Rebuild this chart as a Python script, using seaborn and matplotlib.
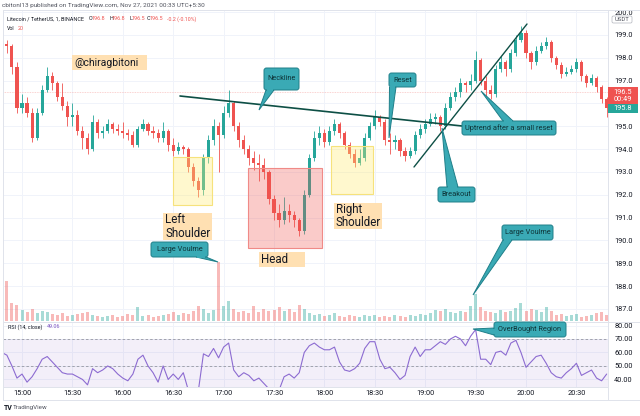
import matplotlib
matplotlib.use("Agg")
import matplotlib.pyplot as plt
import matplotlib.dates as mdates
from matplotlib.patches import Rectangle, Polygon, FancyBboxPatch
from matplotlib.lines import Line2D
from matplotlib.transforms import Affine2D
import numpy as np
import pandas as pd
import seaborn as sns

FIRST_OPEN = 198.3
CLOSE = [198.6, 198.5, 197.6, 195.8, 196.0, 195.6, 194.5, 195.6, 196.6, 197.2,
         196.9, 196.3, 195.9, 195.4, 195.5, 194.8, 194.5, 194.0, 195.2, 194.7,
         194.8, 195.1, 194.9, 194.8, 194.7, 194.6, 194.2, 194.9, 195.1, 194.8,
         194.7, 194.5, 194.8, 194.2, 193.9, 194.1, 194.0, 193.2, 192.6, 192.2,
         193.6, 194.4, 195.0, 194.6, 195.6, 196.0, 195.0, 194.4, 194.0, 193.6,
         193.4, 193.3, 193.0, 191.8, 191.2, 190.9, 191.3, 191.1, 190.9, 190.4,
         192.0, 193.6, 194.5, 194.7, 194.3, 194.8, 195.1, 194.7, 194.2, 193.8,
         193.4, 193.6, 194.5, 195.0, 195.4, 195.2, 194.4, 194.3, 194.4, 193.9,
         193.7, 193.9, 194.6, 194.9, 195.1, 195.3, 195.4, 195.0, 195.8, 196.3,
         196.5, 196.9, 196.8, 197.0, 197.9, 197.0, 196.6, 196.4, 197.5, 197.8,
         197.5, 198.2, 198.8, 199.1, 198.2, 197.8, 198.3, 198.5, 198.7, 198.0,
         197.7, 197.3, 197.4, 197.5, 197.8, 197.2, 196.9, 197.1, 196.7, 196.2,
         195.8]
HIGH = [198.8, 198.8, 198.6, 197.8, 196.4, 196.3, 195.8, 195.8, 196.8, 197.6,
        197.4, 197.0, 196.9, 196.1, 196.0, 195.7, 195.0, 194.7, 195.5, 195.3,
        195.0, 195.3, 195.2, 195.1, 195.2, 194.9, 194.8, 195.0, 195.3, 195.2,
        195.0, 194.9, 195.2, 194.9, 194.5, 194.3, 194.2, 194.1, 193.4, 192.8,
        193.8, 194.6, 195.3, 195.2, 195.9, 196.6, 196.1, 195.2, 194.6, 194.2,
        193.9, 193.8, 193.6, 193.1, 192.0, 191.6, 191.9, 191.6, 191.3, 191.0,
        192.2, 193.8, 194.8, 195.0, 194.9, 195.0, 195.3, 195.2, 194.8, 194.3,
        194.0, 194.0, 194.7, 195.2, 195.7, 195.5, 195.3, 194.7, 194.6, 194.5,
        194.1, 194.1, 194.8, 195.1, 195.3, 195.6, 195.6, 195.5, 196.0, 196.5,
        196.7, 197.1, 197.0, 197.3, 198.3, 198.0, 197.2, 196.8, 197.7, 198.1,
        197.9, 198.4, 199.0, 199.4, 199.2, 198.3, 198.5, 198.7, 198.9, 198.8,
        198.1, 197.8, 197.6, 197.7, 198.0, 197.9, 197.3, 197.3, 197.2, 196.8,
        196.3]
LOW = [198.1, 198.2, 197.3, 195.6, 195.6, 195.4, 194.3, 194.4, 195.5, 196.5,
       196.6, 196.1, 195.7, 195.0, 195.0, 194.6, 194.0, 193.8, 193.9, 194.5,
       194.5, 194.7, 194.7, 194.6, 194.5, 194.4, 194.1, 194.1, 194.8, 194.6,
       194.5, 194.3, 194.3, 193.9, 193.7, 193.8, 193.8, 193.0, 192.4, 191.9,
       192.0, 193.4, 194.2, 193.0, 194.5, 195.4, 194.8, 194.1, 193.8, 193.3,
       193.1, 192.6, 192.7, 191.6, 190.9, 190.6, 190.7, 190.8, 190.6, 190.2,
       190.3, 191.9, 193.5, 194.2, 194.1, 194.2, 194.6, 194.5, 194.0, 193.6,
       193.2, 193.3, 193.5, 194.4, 194.9, 195.0, 194.2, 193.8, 194.0, 193.7,
       193.5, 193.6, 193.8, 194.5, 194.7, 195.0, 195.1, 194.8, 194.9, 195.7,
       196.1, 196.3, 196.5, 196.6, 196.9, 196.8, 196.3, 196.2, 196.3, 197.4,
       197.2, 197.4, 198.1, 198.7, 198.0, 197.5, 197.7, 198.2, 198.4, 197.8,
       197.5, 197.1, 197.2, 197.3, 197.4, 197.0, 196.7, 196.8, 196.5, 196.0,
       195.4]
VOLUME = [150, 400, 180, 160, 110, 90, 120, 80, 100, 90,
          70, 60, 80, 50, 60, 70, 80, 90, 60, 50,
          40, 50, 60, 40, 50, 70, 60, 140, 50, 60,
          40, 50, 60, 70, 90, 60, 80, 70, 100, 150,
          120, 80, 110, 590, 150, 200, 120, 90, 100, 80,
          150, 90, 120, 100, 110, 140, 100, 120, 90, 160,
          120, 80, 60, 70, 50, 60, 80, 50, 40, 60,
          50, 40, 60, 50, 60, 40, 50, 40, 60, 50,
          40, 60, 50, 70, 60, 80, 110, 100, 120, 90,
          80, 100, 90, 150, 270, 140, 100, 90, 80, 110,
          90, 100, 130, 180, 100, 120, 110, 90, 140, 100,
          60, 70, 50, 60, 70, 40, 50, 60, 80, 90, 60]
RSI = [60, 58, 50, 41, 44, 38, 42, 48, 55, 57,
       53, 49, 45, 44, 44, 42, 40, 36, 48, 45,
       47, 50, 48, 44, 41, 39, 44, 55, 58, 50,
       45, 38, 50, 40, 44, 40, 45, 32, 30, 32,
       59, 57, 63, 56, 64, 67, 47, 42, 45, 43,
       39, 41, 37, 33, 31, 32, 42, 44, 41, 45,
       60, 65, 67, 64, 62, 62, 64, 53, 47, 46,
       48, 52, 63, 68, 68, 55, 48, 49, 45, 40,
       43, 57, 64, 57, 62, 62, 65, 68, 66, 70,
       72, 70, 65, 72, 77, 55, 55, 51, 60, 61,
       58, 67, 69, 60, 49, 53, 57, 58, 52, 45,
       42, 41, 45, 48, 52, 43, 45, 47, 41, 39, 44]

TIME_LABELS = ["15:00", "15:30", "16:00", "16:30", "17:00", "17:30",
               "18:00", "18:30", "19:00", "19:30", "20:00", "20:30"]
PRICE_TICKS = [187.0, 188.0, 189.0, 190.0, 191.0, 192.0, 193.0,
               194.0, 195.0, 196.0, 197.0, 198.0, 199.0, 200.0]
PRICE_LABELS = ["187.0", "188.0", "189.0", "190.0", "191.0", "192.0", "193.0",
                "194.0", "195.0", "", "197.0", "198.0", "199.0", "200.0"]
RSI_TICKS = [40, 50, 60, 70, 80]
LAST_PRICE = 196.5

UP = "#26a69a"
DOWN = "#ef5350"
GRID = "#f0f3fa"
BORDER = "#e0e3eb"
TXT = "#131722"
TEAL = "#3aaab5"
TEAL_EDGE = "#1f7f89"
ORANGE = "#ffe0b2"
LINE_GREEN = "#0d4f45"

sns.set_style("white")
plt.rcParams["font.family"] = ["Roboto", "DejaVu Sans"]

W, H = 640, 416
fig = plt.figure(figsize=(W / 100, H / 100), dpi=100)
fig.patch.set_facecolor("white")


def frac(x0, y0, x1, y1):
    # pixel box (top-left origin) -> figure fraction rect
    return [x0 / W, 1 - y1 / H, (x1 - x0) / W, (y1 - y0) / H]


px = Affine2D().scale(1 / W, -1 / H).translate(0, 1) + fig.transFigure

times = pd.date_range("2021-11-26 14:48", periods=len(CLOSE), freq="3min")
xs = mdates.date2num(times)
step = xs[1] - xs[0]
x_lo = mdates.date2num(pd.Timestamp("2021-11-26 14:48:41"))
x_hi = mdates.date2num(pd.Timestamp("2021-11-26 20:48:48"))
tick_x = mdates.date2num(pd.to_datetime(["2021-11-26 " + t for t in TIME_LABELS]))

close = np.array(CLOSE)
opens = np.array([FIRST_OPEN] + CLOSE[:-1])
up = close >= opens
cols = np.where(up, UP, DOWN)

# ---- price pane
ax = fig.add_axes(frac(3, 10, 608, 321))
ax.set_xlim(x_lo, x_hi)
ax.set_ylim(186.47, 200.095)
ax.set_xticks(tick_x)
ax.set_yticks(PRICE_TICKS)
ax.set_yticklabels(PRICE_LABELS)
ax.grid(True, color=GRID, lw=0.7)
ax.set_axisbelow(True)
ax.tick_params(axis="x", bottom=False, labelbottom=False)
ax.tick_params(axis="y", left=False, labelleft=False, right=True, labelright=True,
               length=0, pad=4.5, labelsize=5.3, labelcolor=TXT)
for s in ax.spines.values():
    s.set_visible(False)
ax.axhline(LAST_PRICE, color=DOWN, lw=0.6, alpha=0.35, ls=(0, (1, 1)))
ax.vlines(xs, LOW, HIGH, colors=cols, lw=0.6, zorder=3)
ax.bar(xs, np.maximum(np.abs(close - opens), 0.04), bottom=np.minimum(close, opens),
       width=step * 0.62, color=cols, lw=0, zorder=4)

# ---- volume overlay
axv = fig.add_axes(frac(3, 201, 608, 321))
axv.patch.set_alpha(0)
axv.set_xlim(x_lo, x_hi)
axv.set_ylim(0, 1200)
axv.bar(xs, VOLUME, width=step * 0.6, color=cols, alpha=0.4, lw=0)
axv.set_xticks([])
axv.set_yticks([])
for s in axv.spines.values():
    s.set_visible(False)

# ---- RSI pane
axr = fig.add_axes(frac(3, 322, 608, 387))
axr.set_xlim(x_lo, x_hi)
axr.set_ylim(34.4, 82.6)
axr.axhspan(30, 70, color="#7e57c2", alpha=0.09, lw=0)
for lvl in (70, 50, 30):
    axr.axhline(lvl, color="#9598a1", lw=0.6, ls=(0, (3, 2.5)))
sns.lineplot(x=xs, y=RSI, ax=axr, color="#8c6bd1", lw=0.8)
axr.set_xticks(tick_x)
axr.set_xticklabels(TIME_LABELS)
axr.set_yticks(RSI_TICKS)
axr.set_yticklabels([f"{v:.2f}" for v in RSI_TICKS])
axr.grid(True, color=GRID, lw=0.7)
axr.set_axisbelow(True)
axr.tick_params(axis="x", length=0, pad=2.5, labelsize=5.3, labelcolor=TXT)
axr.tick_params(axis="y", left=False, labelleft=False, right=True, labelright=True,
                length=0, pad=4.5, labelsize=5.3, labelcolor=TXT)
for s in axr.spines.values():
    s.set_visible(False)

# ---- frame lines
for (xa, ya, xb, yb) in [(3, 10, 640, 10), (3, 10, 3, 400), (3, 400, 640, 400),
                         (608, 10, 608, 400), (3, 321.5, 640, 321.5), (3, 387, 608, 387)]:
    fig.add_artist(Line2D([xa, xb], [ya, yb], color=BORDER, lw=0.7, transform=px))

# ---- header texts
fig.text(2 / W, 1 - 6 / H, "cbitonl13 published on TradingView.com, Nov 27, 2021 00:33 UTC+5:30",
         fontsize=4.6, color="#50535e", va="center")
hy = 1 - 19 / H
for xp, s, c in [(7, "Litecoin / TetherUS, 1, BINANCE", TXT), (89, "O", TXT), (92, "196.8", DOWN),
                 (109, "H", TXT), (112, "196.8", DOWN), (129, "L", TXT), (131.5, "196.5", DOWN),
                 (147, "C", TXT), (150, "196.5", DOWN), (167, "-0.2 (-0.10%)", DOWN)]:
    fig.text(xp / W, hy, s, fontsize=3.9, color=c, va="center")
fig.text(7 / W, 1 - 28 / H, "Vol", fontsize=3.9, color=TXT, va="center")
fig.text(18 / W, 1 - 28 / H, "20", fontsize=3.9, color=DOWN, va="center")
fig.text(8 / W, 1 - 327 / H, "RSI (14, close)", fontsize=3.9, color=TXT, va="center")
fig.text(47 / W, 1 - 327 / H, "49.06", fontsize=3.9, color="#7e57c2", va="center")
fig.text(4 / W, 1 - 408 / H, "TV", fontsize=5, color=TXT, va="center", fontweight="bold")
fig.text(13 / W, 1 - 408 / H, "TradingView", fontsize=4.5, color="#50535e", va="center")

# ---- right price labels
fig.add_artist(Rectangle((608, 87), 30, 17, fc=DOWN, ec="none", transform=px, zorder=20))
fig.text(623 / W, 1 - 92 / H, "196.5", fontsize=5.3, color="white", ha="center", va="center", zorder=21)
fig.text(623 / W, 1 - 99.5 / H, "00:49", fontsize=5.3, color="white", ha="center", va="center", zorder=21)
fig.add_artist(Rectangle((608, 104), 30, 8.5, fc=UP, ec="none", transform=px, zorder=20))
fig.text(623 / W, 1 - 108.3 / H, "195.8", fontsize=5.3, color="white", ha="center", va="center", zorder=21)
fig.add_artist(FancyBboxPatch((612, 16), 20, 7, boxstyle="round,pad=0,rounding_size=1.5",
                              fc="white", ec="#b2b5be", lw=0.5, transform=px, zorder=20))
fig.text(622 / W, 1 - 19.5 / H, "USDT", fontsize=4.3, color="#50535e", ha="center", va="center", zorder=21)

# ---- pattern boxes
for (x0, y0, x1, y1), fc, ec in [((173, 157, 212, 205), (1.0, 0.93, 0.45, 0.35), "#f6e27c"),
                                 ((331, 146, 373, 194), (1.0, 0.93, 0.45, 0.35), "#f6e27c"),
                                 ((248, 168, 322, 248), (0.94, 0.33, 0.31, 0.3), "#f08a87")]:
    fig.add_artist(Rectangle((x0, y0), x1 - x0, y1 - y0, fc=fc, ec=ec, lw=0.8, transform=px, zorder=5))

# ---- orange labels
for (x0, y0, x1, y1), lines, fs in [((72, 55, 147, 70), ["@chiragbitoni"], 7.5),
                                   ((163, 213, 212, 240), ["Left", "Shoulder"], 8.3),
                                   ((259, 252, 305, 267), ["Head"], 8.3),
                                   ((334, 203, 382, 229), ["Right", "Shoulder"], 8.3)]:
    fig.add_artist(Rectangle((x0, y0), x1 - x0, y1 - y0, fc=ORANGE, ec="none", transform=px, zorder=6))
    n = len(lines)
    for k, s in enumerate(lines):
        yc = y0 + (y1 - y0) * (k + 0.5) / n
        fig.text((x0 + 2) / W, 1 - yc / H, s, fontsize=fs, color=TXT, va="center", zorder=7)

# ---- trend lines
fig.add_artist(Line2D([180, 462], [96, 126], color=LINE_GREEN, lw=1.2, transform=px, zorder=8))
fig.add_artist(Line2D([414, 527], [167, 24], color=LINE_GREEN, lw=1.0, transform=px, zorder=8))


def callout(box, base, tip, text):
    x0, y0, x1, y1 = box
    (bx0, by0), (bx1, by1) = base
    fig.add_artist(Polygon([(bx0, by0), tip, (bx1, by1)], closed=True, fc=TEAL, ec=TEAL_EDGE,
                           lw=0.7, transform=px, zorder=10))
    fig.add_artist(FancyBboxPatch((x0, y0), x1 - x0, y1 - y0, boxstyle="round,pad=0,rounding_size=2.5",
                                  fc=TEAL, ec=TEAL_EDGE, lw=0.7, transform=px, zorder=11))
    d = np.array([bx1 - bx0, by1 - by0], dtype=float)
    d /= np.hypot(*d)
    nrm = np.array([-d[1], d[0]]) * 1.3
    p0 = np.array([bx0, by0]) + d * 0.9
    p1 = np.array([bx1, by1]) - d * 0.9
    fig.add_artist(Polygon([p0 - nrm, p1 - nrm, p1 + nrm, p0 + nrm], closed=True, fc=TEAL, ec="none",
                           transform=px, zorder=12))
    fig.text((x0 + x1) / 2 / W, 1 - (y0 + y1) / 2 / H, text, fontsize=5.3, color="#0e3438",
             ha="center", va="center", zorder=13)


callout((264, 68, 299, 90), ((266, 90), (274, 90)), (259, 110), "Neckline")
callout((389, 73, 416, 87), ((389.5, 87), (396, 87)), (389, 138), "Reset")
callout((462, 121, 556, 135), ((503, 121), (513, 121)), (481, 91), "Uptrend after a small reset")
callout((438, 187, 475, 202), ((447, 187), (458, 187)), (442, 128), "Breakout")
callout((151, 242, 208, 257), ((196, 257), (206, 257)), (218, 262), "Large Voulme")
callout((502, 225, 553, 240), ((503, 240), (512, 240)), (473, 295), "Large Voulme")
callout((494, 322, 566, 337), ((494, 328), (494, 335)), (473, 329), "OverBought Region")

fig.savefig("out.png", dpi=100)
